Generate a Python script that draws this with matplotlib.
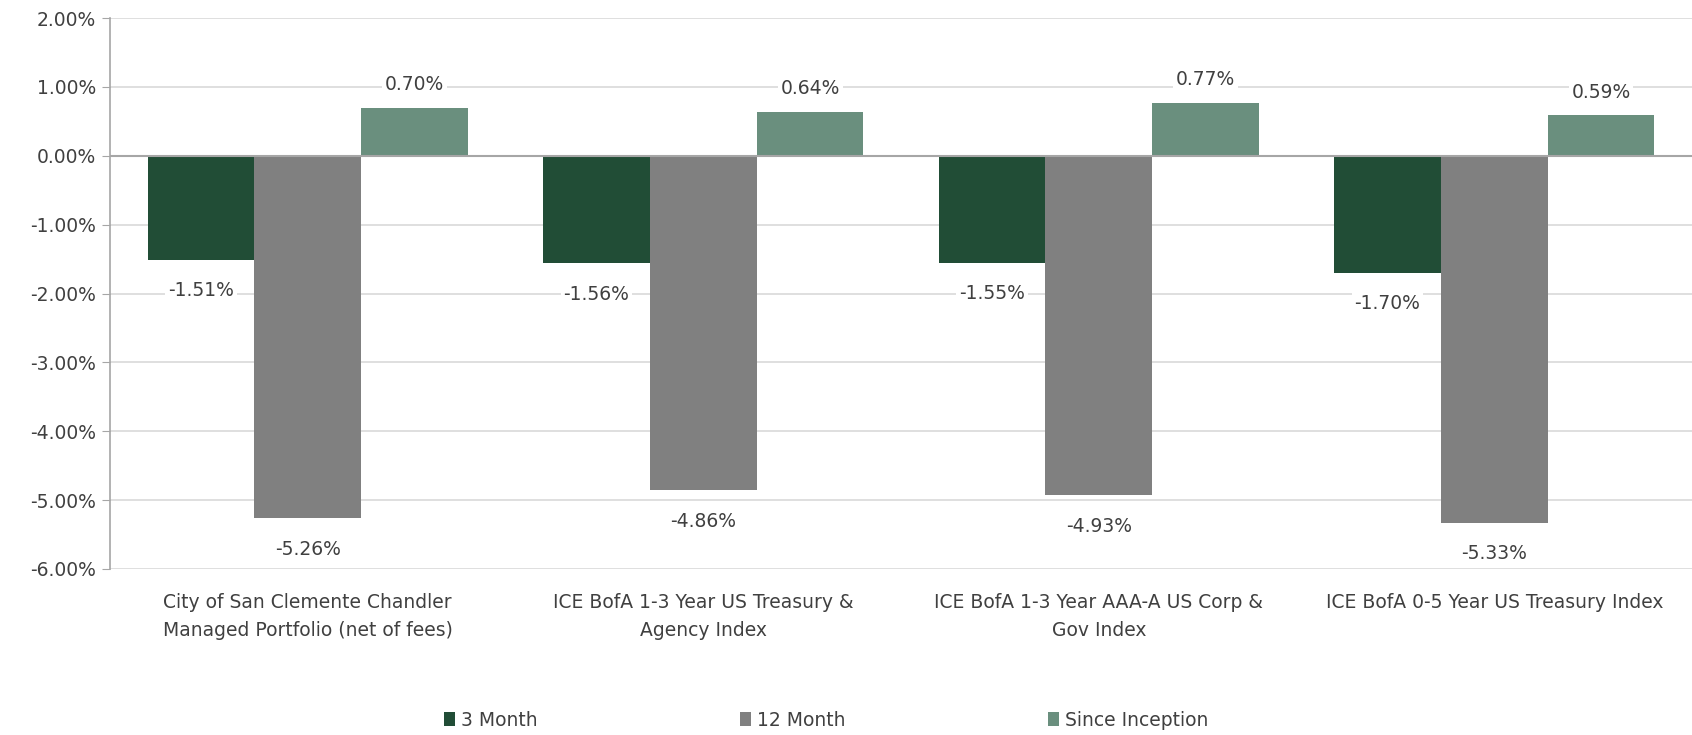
import matplotlib.pyplot as plt
import numpy as np
from matplotlib.ticker import FuncFormatter

plt.rcParams['font.family'] = ['DejaVu Sans']

categories = ["City of San Clemente Chandler\nManaged Portfolio (net of fees)",
              "ICE BofA 1-3 Year US Treasury &\nAgency Index",
              "ICE BofA 1-3 Year AAA-A US Corp &\nGov Index",
              "ICE BofA 0-5 Year US Treasury Index"]
series_names = ["3 Month", "12 Month", "Since Inception"]
three_month = [-1.51, -1.56, -1.55, -1.70]
twelve_month = [-5.26, -4.86, -4.93, -5.33]
since_inception = [0.70, 0.64, 0.77, 0.59]
colors = ["#214d36", "#808080", "#6a8f7e"]

fig = plt.figure(figsize=(16.92, 7.35), dpi=100)
ax = fig.add_axes([110 / 1692, 1 - 569 / 735, (1692 - 110) / 1692, (569 - 18) / 735])

x = np.arange(len(categories))
w = 0.27
text_color = "#404040"
fs = 13.5
for i, (vals, name) in enumerate(zip([three_month, twelve_month, since_inception], series_names)):
    pos = x + (i - 1) * w
    ax.bar(pos, vals, w, color=colors[i], label=name, zorder=2)
    for px, v in zip(pos, vals):
        off = 23 if v >= 0 else -31
        ax.annotate(f"{v:.2f}%", (px, v), xytext=(0, off), textcoords="offset pixels",
                    ha="center", va="center", fontsize=fs, color=text_color, zorder=4,
                    bbox=dict(boxstyle="square,pad=0.15", fc="white", ec="none"))

ax.set_xlim(-0.5, len(categories) - 0.5)
ax.set_ylim(-6, 2)
ax.set_yticks(np.arange(-6, 2.01, 1))
ax.yaxis.set_major_formatter(FuncFormatter(lambda v, p: f"{v:.2f}%"))
ax.grid(axis="y", color="#d9d9d9", linewidth=1.2, zorder=0)
ax.axhline(0, color="#a6a6a6", linewidth=1.5, zorder=3)
ax.set_xticks(x)
ax.set_xticklabels(categories, fontsize=fs, color=text_color, linespacing=1.6)
ax.tick_params(axis="x", length=0, pad=17)
ax.tick_params(axis="y", labelsize=fs, labelcolor=text_color, color="#a6a6a6", length=6, pad=4)
for s in ["top", "right", "bottom"]:
    ax.spines[s].set_visible(False)
ax.spines["left"].set_color("#a6a6a6")
ax.spines["left"].set_linewidth(1.2)

fig.legend(loc="center", bbox_to_anchor=(826 / 1692, 1 - 720 / 735), ncol=3, frameon=False,
           fontsize=fs, handlelength=0.6, handleheight=0.8, handletextpad=0.3,
           columnspacing=10.8, labelcolor=text_color)

fig.savefig("out.png", dpi=100)
